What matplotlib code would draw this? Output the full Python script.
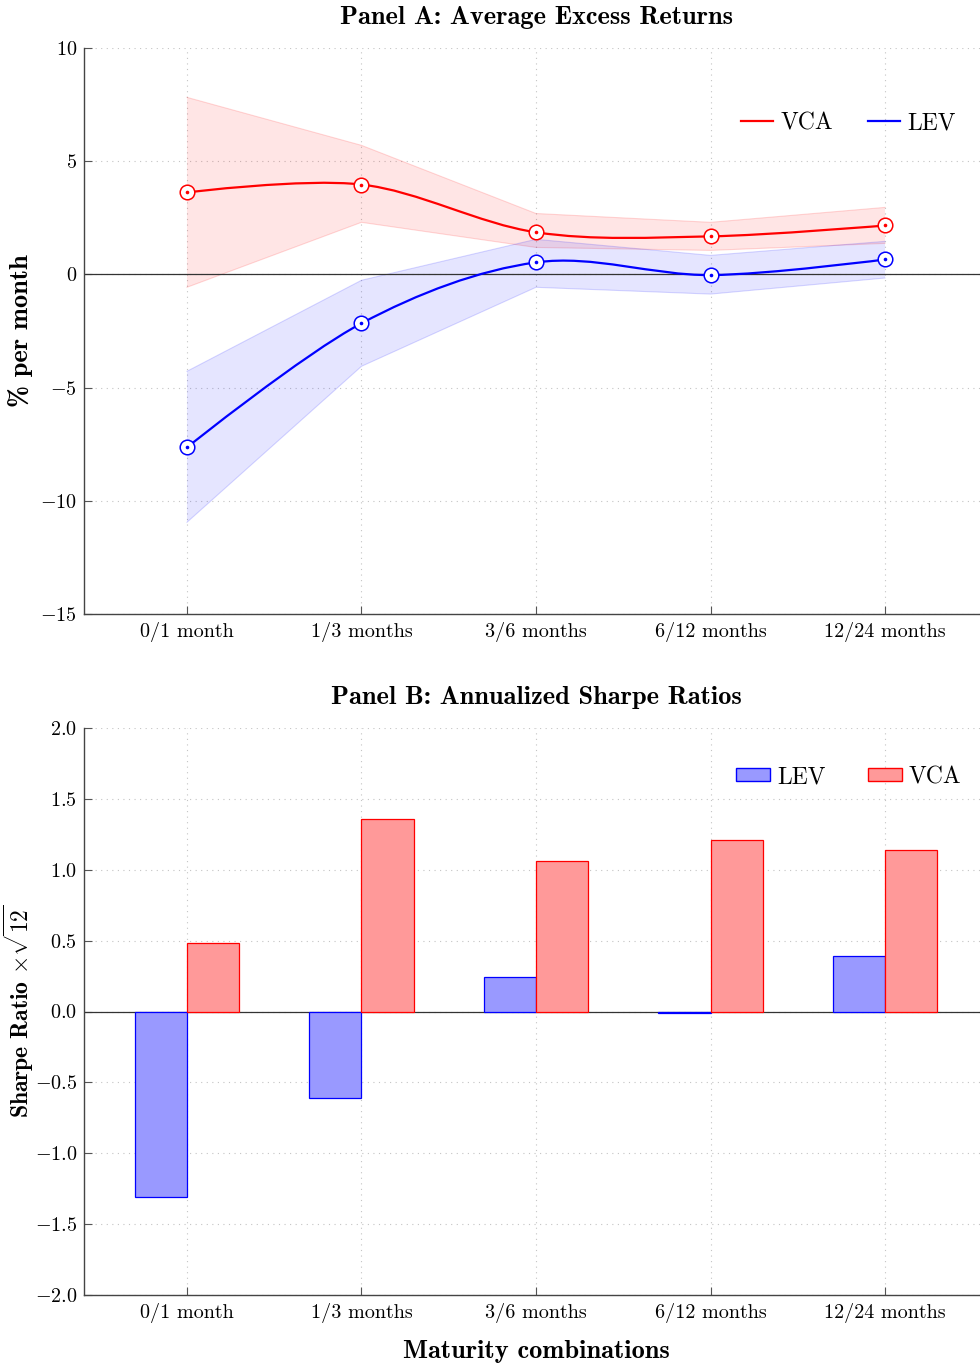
import matplotlib
matplotlib.use("Agg")
import matplotlib.pyplot as plt
import numpy as np
from matplotlib.path import Path
from matplotlib.patches import PathPatch, Patch
from matplotlib.lines import Line2D

plt.rcParams["font.family"] = "serif"
plt.rcParams["font.serif"] = ["cmr10"]
plt.rcParams["mathtext.fontset"] = "cm"
plt.rcParams["axes.unicode_minus"] = True

maturities = ["0/1 month", "1/3 months", "3/6 months", "6/12 months", "12/24 months"]

# panel A: average excess returns (% per month) and confidence bands
vca_ret = [3.62, 3.97, 1.86, 1.68, 2.16]
vca_hi = [7.82, 5.70, 2.69, 2.30, 2.96]
vca_lo = [-0.57, 2.30, 1.19, 1.06, 1.37]
lev_ret = [-7.64, -2.16, 0.53, -0.03, 0.66]
lev_hi = [-4.28, -0.26, 1.55, 0.84, 1.46]
lev_lo = [-10.95, -4.06, -0.57, -0.87, -0.16]

# panel B: annualized Sharpe ratios
lev_sr = [-1.31, -0.61, 0.24, -0.01, 0.39]
vca_sr = [0.48, 1.36, 1.06, 1.21, 1.14]

yticks_a = [10, 5, 0, -5, -10, -15]
yticks_b = [2.0, 1.5, 1.0, 0.5, 0.0, -0.5, -1.0, -1.5, -2.0]

RED = "#ff0000"
BLUE = "#0000ff"
FS = 14.5
BIG = 19


def smooth_path(xs, ys, t=0.165):
    # tikz "smooth" style curveto through the points
    p = np.column_stack([xs, ys]).astype(float)
    n = len(p)
    verts = [p[0]]
    codes = [Path.MOVETO]
    for i in range(n - 1):
        c1 = p[i] if i == 0 else p[i] + t * (p[i + 1] - p[i - 1])
        c2 = p[i + 1] if i + 1 == n - 1 else p[i + 1] - t * (p[i + 2] - p[i])
        verts += [c1, c2, p[i + 1]]
        codes += [Path.CURVE4] * 3
    return Path(verts, codes)


def style_axes(ax, yticks, labels):
    ax.spines["top"].set_visible(False)
    ax.spines["right"].set_visible(False)
    for s in ["left", "bottom"]:
        ax.spines[s].set_color("#444444")
        ax.spines[s].set_linewidth(1.0)
    ax.set_xlim(-0.59, 4.59)
    ax.set_xticks(range(len(maturities)))
    ax.set_xticklabels(maturities, fontsize=FS)
    ax.set_yticks(yticks)
    ax.set_yticklabels(labels, fontsize=FS)
    ax.tick_params(axis="x", direction="in", length=6, color="#555555", pad=6)
    ax.tick_params(axis="y", direction="in", length=6, color="#555555", pad=5)
    ax.grid(True, linestyle=(0, (1, 4)), color="#c4c4c4", linewidth=0.8)
    ax.set_axisbelow(True)
    ax.axhline(0, color="#333333", linewidth=0.9, zorder=2)
    ax.yaxis.set_label_coords(-0.0564, 0.5)


fig = plt.figure(figsize=(9.8, 13.65), dpi=100)
x = np.arange(len(maturities))

# ---- Panel A
axA = fig.add_axes([84 / 980, 1 - 614 / 1365, 904 / 980, 566 / 1365])
axA.fill_between(x, vca_lo, vca_hi, facecolor=RED, alpha=0.1, edgecolor="none", zorder=1)
axA.plot(x, vca_hi, color=RED, alpha=0.15, lw=0.8, zorder=1)
axA.plot(x, vca_lo, color=RED, alpha=0.15, lw=0.8, zorder=1)
axA.fill_between(x, lev_lo, lev_hi, facecolor=BLUE, alpha=0.1, edgecolor="none", zorder=1)
axA.plot(x, lev_hi, color=BLUE, alpha=0.15, lw=0.8, zorder=1)
axA.plot(x, lev_lo, color=BLUE, alpha=0.15, lw=0.8, zorder=1)

for ys, c in [(vca_ret, RED), (lev_ret, BLUE)]:
    axA.add_patch(PathPatch(smooth_path(x, ys), fill=False, edgecolor=c, lw=1.6, zorder=3))
    axA.plot(x, ys, "o", ms=10.5, mfc="white", mec=c, mew=1.1, zorder=4)
    axA.plot(x, ys, "o", ms=2.6, mfc=c, mec=c, mew=0, zorder=5)

style_axes(axA, yticks_a, [f"${v}$" for v in yticks_a])
axA.set_ylim(-15, 10)
axA.set_title("Panel A: Average Excess Returns", fontfamily="cmb10", fontsize=BIG, pad=17)
axA.set_ylabel("% per month", fontfamily="cmb10", fontsize=BIG)
handles = [Line2D([], [], color=RED, lw=1.6), Line2D([], [], color=BLUE, lw=1.6)]
axA.legend(handles, ["VCA", "LEV"], ncol=2, frameon=False, fontsize=17,
           loc="upper right", bbox_to_anchor=(0.988, 0.924), handlelength=1.35,
           handletextpad=0.3, columnspacing=1.5)

# ---- Panel B
axB = fig.add_axes([84 / 980, 1 - 1295 / 1365, 904 / 980, 567 / 1365])
w = 0.3
axB.bar(x - w / 2, lev_sr, width=w, color="#9999ff", edgecolor=BLUE, linewidth=0.9, zorder=3)
axB.bar(x + w / 2, vca_sr, width=w, color="#ff9999", edgecolor=RED, linewidth=0.9, zorder=3)
style_axes(axB, yticks_b, [f"${v:.1f}$" for v in yticks_b])
axB.set_ylim(-2, 2)
axB.set_title("Panel B: Annualized Sharpe Ratios", fontfamily="cmb10", fontsize=BIG, pad=17)
# y label placed by its left edge so the radical stays inside the figure
fig.text(2 / 980, 1 - 1011 / 1365, r"Sharpe Ratio $\times\sqrt{12}$", fontfamily="cmb10",
         fontsize=17, rotation=90, ha="left", va="center")
axB.set_xlabel("Maturity combinations", fontfamily="cmb10", fontsize=BIG, labelpad=12)
handles = [Patch(facecolor="#9999ff", edgecolor=BLUE), Patch(facecolor="#ff9999", edgecolor=RED)]
axB.legend(handles, ["LEV", "VCA"], ncol=2, frameon=False, fontsize=17,
           loc="upper right", bbox_to_anchor=(0.994, 0.97), handlelength=1.44,
           handleheight=0.47, handletextpad=0.3, columnspacing=1.78)

fig.savefig("out.png", dpi=100)
